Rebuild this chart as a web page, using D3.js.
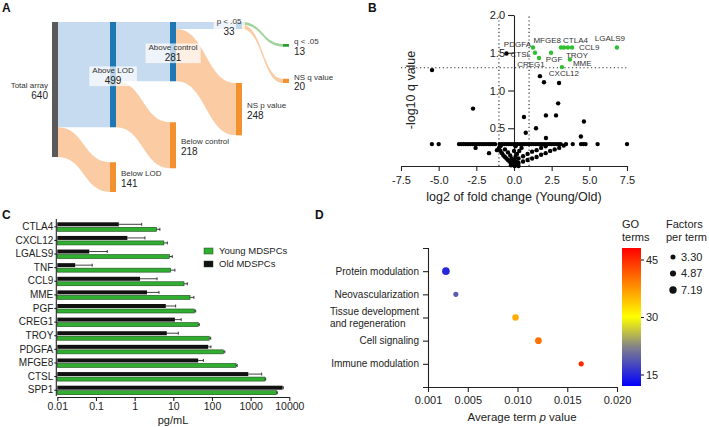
<!DOCTYPE html>
<html>
<head>
<meta charset="utf-8">
<script src="https://cdn.jsdelivr.net/npm/d3@7"></script>
<style>
  body { margin: 0; background: #fff; }
  svg { display: block; font-family: "Liberation Sans", Arial, sans-serif; }
</style>
</head>
<body>
<div id="fig"></div>
<script>
/*******************************/
/*            Data             */
/*******************************/
// Panel A: sankey of the array screen
const sankeyNodes = [
  {id: "total",     label: "Total array",   value: 640, col: 0, kind: "gray"},
  {id: "aboveLOD",  label: "Above LOD",     value: 499, col: 1, kind: "blue"},
  {id: "belowLOD",  label: "Below LOD",     value: 141, col: 1, kind: "orange"},
  {id: "aboveCtrl", label: "Above control", value: 281, col: 2, kind: "blue"},
  {id: "belowCtrl", label: "Below control", value: 218, col: 2, kind: "orange"},
  {id: "p05",       label: "p < .05",       value: 33,  col: 3, kind: "blue"},
  {id: "nsP",       label: "NS p value",    value: 248, col: 3, kind: "orange"},
  {id: "q05",       label: "q < .05",       value: 13,  col: 4, kind: "green"},
  {id: "nsQ",       label: "NS q value",    value: 20,  col: 4, kind: "orange"}
];
const sankeyLinks = [
  ["total", "aboveLOD", 499], ["total", "belowLOD", 141],
  ["aboveLOD", "aboveCtrl", 281], ["aboveLOD", "belowCtrl", 218],
  ["aboveCtrl", "p05", 33], ["aboveCtrl", "nsP", 248],
  ["p05", "q05", 13], ["p05", "nsQ", 20]
];

// Panel B: volcano plot
const sigGenes  = ["PDGFA", "CTSL", "CREG1", "PGF", "MFGE8", "CTLA4", "TROY", "CCL9", "MME", "CXCL12", "LGALS9"];
const sigLog2FC = [1.26, 1.39, 1.66, 2.46, 3.12, 3.32, 3.58, 3.85, 3.71, 3.18, 6.83];
const sigLogQ   = [1.57, 1.50, 1.43, 1.50, 1.57, 1.57, 1.57, 1.57, 1.41, 1.31, 1.57];
const nsPoints = [
  [-5.44, 1.27], [-2.72, 0.76], [-0.5, 1.49], [0.66, 0.65], [0.78, 0.44], [1.46, 0.50],
  [1.72, 1.19], [1.99, 1.11], [2.99, 1.10], [2.93, 0.83], [2.12, 0.67], [2.79, 0.67],
  [4.64, 0.59], [2.12, 0.37], [4.44, 0.39],
  [-5.45, 0.29], [-5.0, 0.29], [-3.65, 0.29], [-3.5, 0.29], [-3.35, 0.29], [-3.2, 0.29],
  [-3.05, 0.29], [-2.9, 0.29], [-2.75, 0.29], [-2.6, 0.29], [-2.45, 0.29], [-2.3, 0.29],
  [-2.15, 0.29], [-2.0, 0.29], [-1.85, 0.29], [-1.7, 0.29], [-1.55, 0.29], [-1.4, 0.29],
  [-1.25, 0.29], [-0.95, 0.29], [-0.8, 0.29], [-0.65, 0.29], [-0.5, 0.29], [-0.35, 0.29],
  [-0.2, 0.29], [-0.05, 0.29], [0.1, 0.29], [0.25, 0.29], [0.4, 0.29], [0.55, 0.29],
  [0.7, 0.29], [0.85, 0.29], [1.0, 0.29], [1.15, 0.29], [1.3, 0.29], [1.45, 0.29],
  [1.6, 0.29], [1.75, 0.29], [1.9, 0.29], [2.05, 0.29], [2.2, 0.29], [2.35, 0.29],
  [2.5, 0.29], [2.65, 0.29], [2.8, 0.29], [2.95, 0.29], [3.1, 0.29], [3.45, 0.29],
  [3.9, 0.29], [4.45, 0.29], [4.6, 0.29], [4.75, 0.29], [5.55, 0.29], [7.5, 0.29],
  [-2.55, 0.24], [-1.66, 0.17], [-1.13, 0.21],
  [-1.0, 0.24], [-0.9, 0.2], [-0.8, 0.17], [-0.7, 0.14], [-0.6, 0.12], [-0.5, 0.1],
  [-0.4, 0.08], [-0.3, 0.06], [-0.2, 0.04], [-0.1, 0.02], [0.0, 0.01],
  [-0.9, 0.26], [-0.6, 0.22], [-0.4, 0.18], [-0.25, 0.14], [-0.15, 0.1], [-0.05, 0.06],
  [0.3, 0.04], [0.6, 0.06], [0.9, 0.08], [1.2, 0.1], [1.5, 0.12], [1.8, 0.15],
  [2.1, 0.17], [2.4, 0.2], [2.7, 0.22], [3.0, 0.24], [3.3, 0.27],
  [0.3, 0.1], [0.6, 0.13], [0.9, 0.16], [1.2, 0.19], [1.5, 0.21], [1.8, 0.24], [2.1, 0.26],
  [0.05, 0.0], [0.15, 0.02], [0.2, 0.05], [0.1, 0.12], [0.2, 0.16], [0.35, 0.2],
  [0.5, 0.24], [0.0, 0.2], [0.1, 0.26], [-0.2, 0.01], [0.3, 0.0], [0.05, 0.08]
];
const volcanoXTicks = [-7.5, -5, -2.5, 0, 2.5, 5, 7.5];
const volcanoYTicks = [0.5, 1.0, 1.5, 2.0];

// Panel C: factor concentrations (mean and upper end of error bar, pg/mL)
const factors   = ["CTLA4", "CXCL12", "LGALS9", "TNF", "CCL9", "MME", "PGF", "CREG1", "TROY", "PDGFA", "MFGE8", "CTSL", "SPP1"];
const youngMean = [3.7, 5.7, 7.9, 8.5, 18.9, 27, 35, 44, 85, 196, 420, 2340, 4700];
const youngErr  = [4.5, 7.0, 9.4, 11, 23, 34, 38, 47, 93, 215, 450, 2450, 4900];
const oldMean   = [0.39, 0.65, 0.067, 0.029, 1.38, 2.09, 6.4, 11, 6.8, 80, 44, 870, 6700];
const oldErr    = [1.52, 1.85, 0.196, 0.080, 3.8, 4.27, 11.5, 16, 13.5, 94, 60, 1930, 7000];
const concTicks = [0.01, 0.1, 1, 10, 100, 1000, 10000];

// Panel D: GO term bubbles
const goTerms        = ["Protein modulation", "Neovascularization", "Tissue development and regeneration", "Cell signaling", "Immune modulation"];
const avgTermP       = [0.0028, 0.0038, 0.0098, 0.0121, 0.0164];
const goTermCount    = [15, 19, 36, 40, 45];
const factorsPerTerm = [7.6, 3.4, 5.4, 5.9, 3.6];
const sizeLegend     = [3.30, 4.87, 7.19];
const colorTicks     = [15, 30, 45];
const pTicks         = [0.001, 0.005, 0.010, 0.015, 0.020];


/*******************************/
/*       SVG container         */
/*******************************/
const width = 709;
const height = 427;
const ink = "#222";

const svg = d3.select("#fig")
  .append("svg")
    .attr("width", width)
    .attr("height", height)
    .attr("viewBox", `0 0 ${width} ${height}`);

svg.append("rect").attr("width", width).attr("height", height).attr("fill", "#fff");

// Panel letters
[["A", 2, 12], ["B", 368, 12], ["C", 2, 219], ["D", 315, 219]].forEach(([t, x, y]) => {
  svg.append("text").text(t).attr("x", x).attr("y", y)
    .style("font-size", "12px").style("font-weight", "bold").attr("fill", "#111");
});

const styleAxis = (g, fs) => {
  g.select(".domain").attr("stroke", ink).attr("stroke-width", 1.1);
  g.selectAll(".tick line").attr("stroke", ink).attr("stroke-width", 1.1);
  g.selectAll(".tick text").attr("fill", ink).style("font-size", fs).attr("font-family", null);
};


/*******************************/
/*       Panel A: sankey       */
/*******************************/
const sankeyK = 135 / 640;   // px per unit
const nodeW = 6;
const colX = d3.scaleOrdinal().domain([0, 1, 2, 3, 4]).range([52, 110, 170, 236, 283]);
const colStart = [22, 22, 22, 22, 44];
const colGap = [0, 35, 41, 54, 32];
const nodeColor = {gray: "#5a5a5a", blue: "#1f78b4", orange: "#f39130", green: "#2ca02c"};
const linkColor = {blue: "#c6dbef", orange: "#fbcba3", green: "#a3d39c"};

const nodeById = new Map(sankeyNodes.map(n => [n.id, {...n}]));
const nodes = Array.from(nodeById.values());
d3.groups(nodes, n => n.col).forEach(([col, list]) => {
  let y = colStart[col];
  list.forEach(n => {
    n.x0 = colX(col);
    n.x1 = n.x0 + nodeW;
    n.y0 = y;
    n.y1 = y + n.value * sankeyK;
    y = n.y1 + colGap[col];
  });
});
const links = sankeyLinks.map(([s, t, v]) => ({source: nodeById.get(s), target: nodeById.get(t), value: v}));
nodes.forEach(n => {
  let sy = n.y0;
  links.filter(l => l.source === n).sort((a, b) => a.target.y0 - b.target.y0)
    .forEach(l => { l.sy0 = sy; sy += l.value * sankeyK; l.sy1 = sy; });
  let ty = n.y0;
  links.filter(l => l.target === n).sort((a, b) => a.source.y0 - b.source.y0)
    .forEach(l => { l.ty0 = ty; ty += l.value * sankeyK; l.ty1 = ty; });
});

const ribbon = l => {
  const x0 = l.source.x1, x1 = l.target.x0, xm = (x0 + x1) / 2;
  return `M${x0},${l.sy0}C${xm},${l.sy0} ${xm},${l.ty0} ${x1},${l.ty0}` +
         `L${x1},${l.ty1}C${xm},${l.ty1} ${xm},${l.sy1} ${x0},${l.sy1}Z`;
};

const sankeyG = svg.append("g");
sankeyG.selectAll(".link")
  .data(links)
  .join("path")
    .attr("d", ribbon)
    .attr("fill", d => linkColor[d.target.kind]);

sankeyG.selectAll(".node")
  .data(nodes)
  .join("rect")
    .attr("x", d => d.x0)
    .attr("y", d => d.y0)
    .attr("width", nodeW)
    .attr("height", d => Math.max(1, d.y1 - d.y0))
    .attr("fill", d => nodeColor[d.kind]);

nodes.forEach(n => {
  const place = n.col === 0 ? "left" : n.kind === "blue" ? "center" : "right";
  const cy = (n.y0 + n.y1) / 2 + 1;
  let x, anchor;
  if (place === "left") { x = n.x0 - 4; anchor = "end"; }
  else if (place === "right") { x = n.x1 + 5; anchor = "start"; }
  else { x = (n.x0 + n.x1) / 2 + (n.col === 3 ? -10 : 0); anchor = "middle"; }

  const lg = sankeyG.append("g");
  const bg = lg.append("rect").attr("fill", "#fff").attr("fill-opacity", 0.7);
  lg.append("text").text(n.label)
    .attr("x", x).attr("y", cy - 5).attr("dy", "0.35em")
    .attr("text-anchor", anchor).style("font-size", "8px").attr("fill", "#333");
  lg.append("text").text(n.value)
    .attr("x", x).attr("y", cy + 5).attr("dy", "0.35em")
    .attr("text-anchor", anchor).style("font-size", "10px").attr("fill", "#222");
  const bb = lg.node().getBBox();
  bg.attr("x", bb.x - 3).attr("y", bb.y).attr("width", bb.width + 6).attr("height", bb.height);
  if (place !== "center") bg.attr("fill-opacity", 0);
});


/*******************************/
/*      Panel B: volcano       */
/*******************************/
const xB = d3.scaleLinear().domain([-7.5, 7.5]).range([401, 627]);
const yB = d3.scaleLinear().domain([0, 2]).range([166, 15]);
const volcano = svg.append("g");

// threshold lines
const dotted = {stroke: "#333", "stroke-width": 1.2, "stroke-dasharray": "1.2,2.6"};
const addDotted = (x1, y1, x2, y2) => {
  const ln = volcano.append("line").attr("x1", x1).attr("y1", y1).attr("x2", x2).attr("y2", y2);
  Object.entries(dotted).forEach(([k, v]) => ln.attr(k, v));
};
addDotted(xB(-1), yB(0), xB(-1), yB(2));
addDotted(xB(1), yB(0), xB(1), yB(2));
addDotted(xB(-7.5), yB(-Math.log10(0.05)), xB(7.5), yB(-Math.log10(0.05)));

const xAxisB = volcano.append("g")
  .attr("transform", `translate(0, ${yB(0)})`)
  .call(d3.axisBottom(xB).tickValues(volcanoXTicks).tickFormat(d => d.toFixed(1))
    .tickSize(5).tickSizeOuter(0).tickPadding(5));
styleAxis(xAxisB, "11px");

const yAxisB = volcano.append("g")
  .attr("transform", `translate(${xB(0)}, 0)`)
  .call(d3.axisLeft(yB).tickValues(volcanoYTicks).tickFormat(d => d.toFixed(1))
    .tickSize(6).tickSizeOuter(0).tickPadding(3));
styleAxis(yAxisB, "11px");

volcano.selectAll(".ns")
  .data(nsPoints)
  .join("circle")
    .attr("cx", d => xB(d[0]))
    .attr("cy", d => yB(d[1]))
    .attr("r", 2.2)
    .attr("fill", "#000");

const sig = sigGenes.map((g, i) => ({gene: g, x: sigLog2FC[i], y: sigLogQ[i]}));
volcano.selectAll(".sig")
  .data(sig)
  .join("circle")
    .attr("cx", d => xB(d.x))
    .attr("cy", d => yB(d.y))
    .attr("r", 2.2)
    .attr("fill", "#2fbf2f");

// label offsets (dx, dy, anchor)
const sigLabelPos = {
  PDGFA: [-2, -3, "end"], CTSL: [-4, 1, "end"], CREG1: [-8, 6, "middle"],
  PGF: [3, 6, "middle"], MFGE8: [0, -7, "end"], CTLA4: [-1, -7, "start"],
  TROY: [-2, 8, "start"], CCL9: [7, 0, "start"], MME: [3, 4, "start"],
  CXCL12: [2, 6, "middle"], LGALS9: [-7, -9, "middle"]
};
volcano.selectAll(".siglab")
  .data(sig)
  .join("text")
    .text(d => d.gene)
    .attr("x", d => xB(d.x) + sigLabelPos[d.gene][0])
    .attr("y", d => yB(d.y) + sigLabelPos[d.gene][1])
    .attr("dy", "0.35em")
    .attr("text-anchor", d => sigLabelPos[d.gene][2])
    .style("font-size", "8px")
    .attr("fill", "#333");

volcano.append("text")
  .text("-log10 q value")
  .attr("transform", "translate(414.5, 90) rotate(-90)")
  .attr("text-anchor", "middle")
  .style("font-size", "12.5px")
  .attr("fill", ink);

volcano.append("text")
  .text("log2 of fold change (Young/Old)")
  .attr("x", xB(0))
  .attr("y", 201)
  .attr("text-anchor", "middle")
  .style("font-size", "12.5px")
  .attr("fill", ink);


/*******************************/
/*     Panel C: bar chart      */
/*******************************/
const xC = d3.scaleLog().domain([0.01, 10000]).range([57.3, 289.3]);
const yC = d3.scaleBand().domain(factors).range([220, 397]);
const bars = svg.append("g");
const rows = factors.map((f, i) => ({
  factor: f, young: youngMean[i], youngErr: youngErr[i], old: oldMean[i], oldErr: oldErr[i]
}));
const cy = d => yC(d.factor) + yC.bandwidth() / 2;

// old (black) bars
bars.selectAll(".old")
  .data(rows)
  .join("rect")
    .attr("x", xC(0.01))
    .attr("y", d => cy(d) - 4.5)
    .attr("width", d => xC(d.old) - xC(0.01))
    .attr("height", 4)
    .attr("fill", "#111");

// young (green) bars
bars.selectAll(".young")
  .data(rows)
  .join("rect")
    .attr("x", xC(0.01))
    .attr("y", d => cy(d) + 0.5)
    .attr("width", d => xC(d.young) - xC(0.01))
    .attr("height", 4)
    .attr("fill", "#2fae2f")
    .attr("stroke", "#1d4d1d")
    .attr("stroke-width", 0.6);

// error bars
const errs = rows.flatMap(d => [
  {m: d.old, e: d.oldErr, y: cy(d) - 2.5},
  {m: d.young, e: d.youngErr, y: cy(d) + 2.5}
]);
bars.selectAll(".err")
  .data(errs)
  .join("path")
    .attr("d", d => `M${xC(d.m)},${d.y}H${xC(d.e)}M${xC(d.e)},${d.y - 1.5}V${d.y + 1.5}`)
    .attr("stroke", "#111")
    .attr("stroke-width", 0.8)
    .attr("fill", "none");

const xAxisC = bars.append("g")
  .attr("transform", "translate(0, 397)")
  .call(d3.axisBottom(xC).tickValues(concTicks).tickFormat(d => String(d))
    .tickSize(4).tickSizeOuter(0).tickPadding(2));
styleAxis(xAxisC, "10.5px");

const yAxisC = bars.append("g")
  .attr("transform", `translate(${xC(0.01)}, 0)`)
  .call(d3.axisLeft(yC).tickSize(3).tickSizeOuter(0).tickPadding(1).offset(-1));
styleAxis(yAxisC, "10px");

bars.append("text")
  .text("pg/mL")
  .attr("x", 173)
  .attr("y", 424)
  .attr("text-anchor", "middle")
  .style("font-size", "11px")
  .attr("fill", ink);

// legend
[["Young MDSPCs", "#2fae2f", 248], ["Old MDSPCs", "#111", 261]].forEach(([t, c, y]) => {
  bars.append("rect").attr("x", 204).attr("y", y).attr("width", 9).attr("height", 6)
    .attr("fill", c).attr("stroke", "#1d4d1d").attr("stroke-width", 0.5);
  bars.append("text").text(t).attr("x", 219).attr("y", y + 3).attr("dy", "0.35em")
    .style("font-size", "9.5px").attr("fill", ink);
});


/*******************************/
/*     Panel D: GO bubbles     */
/*******************************/
const xD = d3.scaleLinear().domain([0.001, 0.020]).range([428, 617]);
const yD = d3.scalePoint().domain(goTerms).range([248, 387]).padding(1);
const rD = d3.scaleSqrt().domain([0, 7.19]).range([0, 3.7]);
const cD = d3.scaleLinear().domain([12, 22, 30, 48]).range(["#0000ff", "#80808c", "#ffff00", "#ff0000"]);
const bubble = svg.append("g");

const xAxisD = bubble.append("g")
  .attr("transform", "translate(0, 387)")
  .call(d3.axisBottom(xD).tickValues(pTicks).tickFormat(d3.format(".3f"))
    .tickSize(5).tickSizeOuter(0).tickPadding(4));
styleAxis(xAxisD, "11px");

const yAxisD = bubble.append("g")
  .attr("transform", "translate(428, 0)")
  .call(d3.axisLeft(yD).tickSize(5).tickSizeOuter(5).tickFormat(""));
styleAxis(yAxisD, "10px");

// category labels, long ones split over two left-aligned lines
goTerms.forEach(term => {
  const words = term.split(" ");
  const lines = term.length > 20 ? [words.slice(0, 2).join(" "), words.slice(2).join(" ")] : [term];
  const y0 = yD(term) - (lines.length - 1) * 5.7;
  const first = bubble.append("text").text(lines[0])
    .attr("x", 419).attr("y", y0).attr("dy", "0.35em").attr("text-anchor", "end")
    .style("font-size", "10px").attr("fill", ink);
  if (lines.length > 1) {
    const left = 419 - first.node().getComputedTextLength();
    first.attr("x", left).attr("text-anchor", "start");
    bubble.append("text").text(lines[1])
      .attr("x", left).attr("y", y0 + 11.4).attr("dy", "0.35em")
      .style("font-size", "10px").attr("fill", ink);
  }
});

const terms = goTerms.map((t, i) => ({term: t, p: avgTermP[i], n: goTermCount[i], f: factorsPerTerm[i]}));
bubble.selectAll(".bub")
  .data(terms)
  .join("circle")
    .attr("cx", d => xD(d.p))
    .attr("cy", d => yD(d.term))
    .attr("r", d => rD(d.f))
    .attr("fill", d => cD(d.n));

const xLab = bubble.append("text")
  .attr("x", 522)
  .attr("y", 421)
  .attr("text-anchor", "middle")
  .style("font-size", "11.5px")
  .attr("fill", ink);
xLab.append("tspan").text("Average term ");
xLab.append("tspan").text("p").style("font-style", "italic");
xLab.append("tspan").text(" value");

// color bar
const cbY = d3.scaleLinear().domain([12, 48]).range([386, 248]);
const grad = svg.append("defs").append("linearGradient")
  .attr("id", "goGrad").attr("x1", 0).attr("y1", 1).attr("x2", 0).attr("y2", 0);
d3.range(12, 48.01, 2).forEach(v => {
  grad.append("stop").attr("offset", (v - 12) / 36).attr("stop-color", cD(v));
});
bubble.append("rect")
  .attr("x", 622).attr("y", cbY(48))
  .attr("width", 19).attr("height", cbY(12) - cbY(48))
  .attr("fill", "url(#goGrad)");
const cbAxis = bubble.append("g")
  .attr("transform", "translate(641, 0)")
  .call(d3.axisRight(cbY).tickValues(colorTicks).tickSize(3).tickPadding(2));
cbAxis.select(".domain").remove();
styleAxis(cbAxis, "11px");

[["GO", 224], ["terms", 237]].forEach(([t, y]) => {
  bubble.append("text").text(t).attr("x", 622).attr("y", y).attr("dy", "0.35em")
    .style("font-size", "11px").attr("fill", ink);
});
[["Factors", 224], ["per term", 237]].forEach(([t, y]) => {
  bubble.append("text").text(t).attr("x", 666).attr("y", y).attr("dy", "0.35em")
    .style("font-size", "11px").attr("fill", ink);
});

// size legend
const sizeY = d3.scalePoint().domain(sizeLegend).range([257, 290]);
bubble.selectAll(".sizeDot")
  .data(sizeLegend)
  .join("circle")
    .attr("cx", 673)
    .attr("cy", d => sizeY(d))
    .attr("r", d => rD(d))
    .attr("fill", "#111");
bubble.selectAll(".sizeLab")
  .data(sizeLegend)
  .join("text")
    .text(d => d.toFixed(2))
    .attr("x", 681)
    .attr("y", d => sizeY(d))
    .attr("dy", "0.35em")
    .style("font-size", "11px")
    .attr("fill", ink);
</script>
</body>
</html>
